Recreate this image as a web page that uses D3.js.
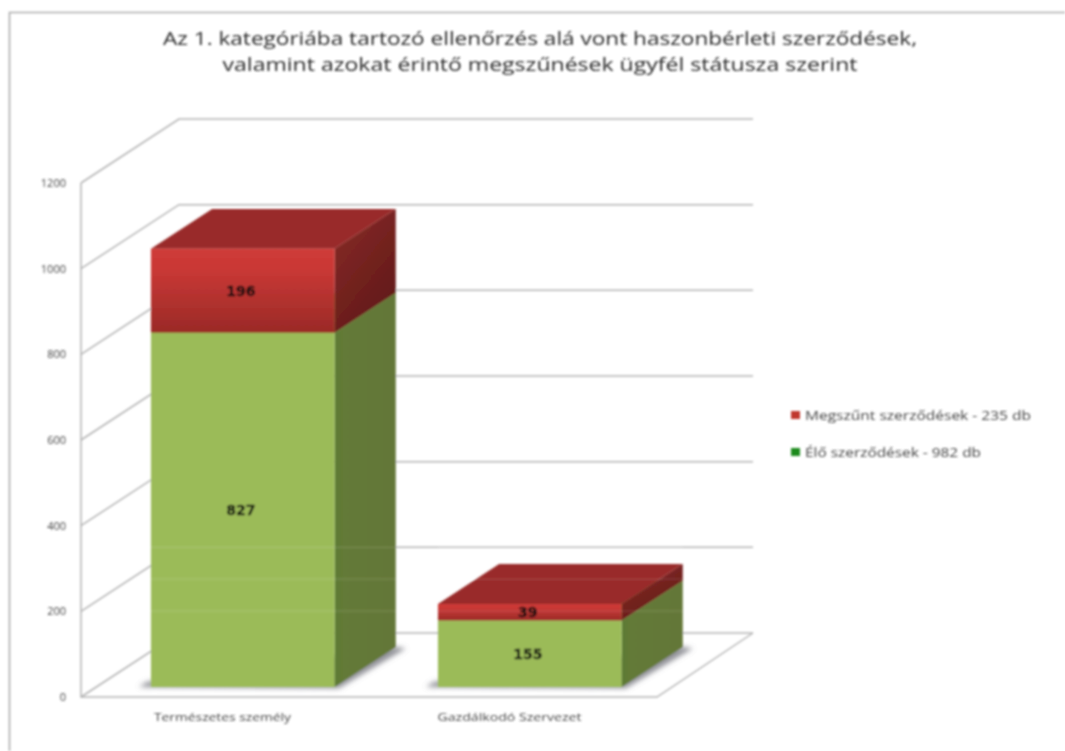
<!DOCTYPE html>
<html>
<head>
<meta charset="utf-8">
<script src="https://cdn.jsdelivr.net/npm/d3@7"></script>
<style>
  body { margin: 0; background: #fff; }
  text { font-family: "Open Sans", sans-serif; }
  .title { font-size: 19px; fill: #2c2c2c; text-anchor: middle; }
  .tick text { font-size: 11px; fill: #444; }
  .cat { font-size: 11.5px; fill: #444; text-anchor: middle; }
  .val { font-family: "DejaVu Sans", sans-serif; font-size: 14px; font-weight: bold; fill: #111; stroke: #111; stroke-width: 0.3; text-anchor: middle; }
  .leg { font-size: 12.5px; fill: #444; }
</style>
</head>
<body>
<div id="chart"></div>
<script>
var titleLines = ["Az 1. kategóriába tartozó ellenőrzés alá vont haszonbérleti szerződések,",
                  "valamint azokat érintő megszűnések ügyfél státusza szerint"];
var categories = ["Természetes személy", "Gazdálkodó Szervezet"];
var elo = [827, 155];
var megszunt = [196, 39];
var yTicks = [0, 200, 400, 600, 800, 1000, 1200];
var legendLabels = ["Megszűnt szerződések - 235 db", "Élő szerződések - 982 db"];
var legendColors = ["#c0392f", "#1f8a1f"];
// faint scan lines that run across the bars, read against the back wall
var faintLevels = [51, 126, 200];

var width = 1065, height = 751;

// the picture is stretched sideways, so text widths are set by hand
var titleWidths = [754, 635];
var catWidths = [137, 144];
var legendWidths = [226, 176];

var svg = d3.select("#chart").append("svg")
  .attr("width", width)
  .attr("height", height);

var defs = svg.append("defs");

// the reference is a blurry scan, so everything gets a little blur
defs.append("filter").attr("id", "soft")
  .attr("filterUnits", "userSpaceOnUse")
  .attr("x", 0).attr("y", 0).attr("width", width).attr("height", height)
  .append("feGaussianBlur").attr("stdDeviation", 0.8);
defs.append("filter").attr("id", "shadow")
  .append("feGaussianBlur").attr("stdDeviation", 2.5);

function grad(id, x2, y2, stops) {
  var g = defs.append("linearGradient").attr("id", id)
    .attr("x1", 0).attr("y1", 0).attr("x2", x2).attr("y2", y2);
  stops.forEach(function(s) {
    g.append("stop").attr("offset", s[0]).attr("stop-color", s[1]);
  });
}
grad("redFront", 0, 1, [[0, "#cf3b38"], [0.25, "#c93835"], [1, "#9a2a27"]]);
grad("redSide", 0.6, 1, [[0, "#8a2b28"], [1, "#611a18"]]);
grad("greenSide", 1, 0, [[0, "#5b7a33"], [0.15, "#647a37"], [1, "#647737"]]);

var chart = svg.append("g").attr("filter", "url(#soft)");

// page frame
chart.append("path")
  .attr("d", "M9.5,751V12.5H1065")
  .attr("fill", "none").attr("stroke", "#aaa").attr("stroke-width", 1.6);

chart.selectAll(".title").data(titleLines).enter().append("text")
  .attr("class", "title")
  .attr("x", 540)
  .attr("y", function(d, i) { return 45 + i * 25.5; })
  .attr("textLength", function(d, i) { return titleWidths[i]; })
  .attr("lengthAdjust", "spacingAndGlyphs")
  .text(function(d) { return d; });

var y = d3.scaleLinear().domain([0, 1200]).range([697, 183]);
var x = d3.scaleBand().domain(categories).range([84, 658]).paddingInner(0.36).paddingOuter(0.18);

// depth of the 3d box: 0 is the front of the floor, 1 the back wall
var depthX = d3.scaleLinear().domain([0, 1]).range([0, 98]);
var depthY = d3.scaleLinear().domain([0, 1]).range([0, -64]);
var barFront = 0.156, barBack = 0.78;
var wallLeft = 81, floorRight = 657;

function pt(px, py, z) {
  return [px + depthX(z), py + depthY(z)];
}
var line = d3.line();

var grid = chart.append("g")
  .attr("fill", "none").attr("stroke", "#b4b4b4").attr("stroke-width", 1.5);

grid.selectAll(".wall").data(yTicks).enter().append("path")
  .attr("d", function(d) {
    return line([[wallLeft, y(d)], pt(wallLeft, y(d), 1), pt(floorRight - 2, y(d), 1)]);
  });
grid.append("path")
  .attr("d", line([[wallLeft, y(1200)], [wallLeft, y(0)], [floorRight, y(0)], pt(floorRight - 2, y(0), 1)]));

var yAxis = d3.axisLeft(y).tickValues(yTicks).tickSize(0).tickPadding(15).tickFormat(d3.format("d"));
var axisG = chart.append("g").attr("transform", "translate(" + wallLeft + ",0)").call(yAxis);
axisG.select(".domain").remove();

chart.selectAll(".cat").data(categories).enter().append("text")
  .attr("class", "cat")
  .attr("x", function(d) { return x(d) + x.bandwidth() / 2 - 5; })
  .attr("y", 721)
  .attr("textLength", function(d, i) { return catWidths[i]; })
  .attr("lengthAdjust", "spacingAndGlyphs")
  .text(function(d) { return d; });

// stacked bars
var rows = categories.map(function(c, i) { return {cat: c, elo: elo[i], megszunt: megszunt[i]}; });
var stack = d3.stack().keys(["elo", "megszunt"])(rows);

var bars = chart.append("g");

// floor shadow
bars.selectAll(".shadow").data(rows).enter().append("path")
  .attr("fill", "#8f9096")
  .attr("filter", "url(#shadow)")
  .attr("d", function(d) {
    var x0 = x(d.cat) - 12, x1 = x(d.cat) + x.bandwidth();
    return line([pt(x0, y(0), barFront), pt(x1 + 6, y(0), barFront - 0.02),
                 pt(x1 + 12, y(0), barBack - 0.02), pt(x1, y(0), barBack), pt(x0, y(0), barFront + 0.08)]) + "Z";
  });

var faces = {
  elo: {front: "#9bbb59", side: "url(#greenSide)", top: "#8aa64e"},
  megszunt: {front: "url(#redFront)", side: "url(#redSide)", top: "#992b29"}
};

stack.forEach(function(s) {
  var f = faces[s.key];
  var g = bars.selectAll(".s-" + s.key).data(s).enter().append("g");

  g.append("path").attr("fill", f.side)
    .attr("d", function(d) {
      var xr = x(d.data.cat) + x.bandwidth();
      return line([pt(xr, y(d[1]), barFront), pt(xr, y(d[1]), barBack),
                   pt(xr, y(d[0]), barBack), pt(xr, y(d[0]), barFront)]) + "Z";
    });
  g.append("path").attr("fill", f.top)
    .attr("d", function(d) {
      var xl = x(d.data.cat), xr = xl + x.bandwidth();
      return line([pt(xl, y(d[1]), barFront), pt(xr, y(d[1]), barFront),
                   pt(xr, y(d[1]), barBack), pt(xl, y(d[1]), barBack)]) + "Z";
    });
  g.append("path").attr("fill", f.front)
    .attr("d", function(d) {
      var xl = x(d.data.cat), xr = xl + x.bandwidth();
      return line([pt(xl, y(d[1]), barFront), pt(xr, y(d[1]), barFront),
                   pt(xr, y(d[0]), barFront), pt(xl, y(d[0]), barFront)]) + "Z";
    });
});

// faint lines over the bars
rows.forEach(function(d) {
  var xl = x(d.cat), xr = pt(xl + x.bandwidth(), 0, barBack)[0];
  bars.selectAll(".faint-" + categories.indexOf(d.cat)).data(faintLevels).enter().append("line")
    .attr("x1", pt(xl, 0, barFront)[0])
    .attr("x2", xr)
    .attr("y1", function(v) { return pt(0, y(v), 1)[1]; })
    .attr("y2", function(v) { return pt(0, y(v), 1)[1]; })
    .attr("stroke", "#fff").attr("stroke-opacity", 0.13).attr("stroke-width", 1.2);
});

// value labels go on top of everything
stack.forEach(function(s) {
  bars.selectAll(".val-" + s.key).data(s).enter().append("text").attr("class", "val")
    .attr("x", function(d) { return pt(x(d.data.cat) + x.bandwidth() / 2, 0, barFront)[0] - 2; })
    .attr("y", function(d) { return pt(0, y((d[0] + d[1]) / 2), barFront)[1] + 5; })
    .text(function(d) { return d[1] - d[0]; });
});

// legend
var leg = chart.selectAll(".legitem").data(legendLabels).enter().append("g")
  .attr("transform", function(d, i) { return "translate(791," + (415 + i * 37) + ")"; });
leg.append("rect")
  .attr("x", 0).attr("y", -4).attr("width", 9).attr("height", 8)
  .attr("fill", function(d, i) { return legendColors[i]; });
leg.append("text").attr("class", "leg")
  .attr("x", 14).attr("y", 5)
  .attr("textLength", function(d, i) { return legendWidths[i]; })
  .attr("lengthAdjust", "spacingAndGlyphs")
  .text(function(d) { return d; });
</script>
</body>
</html>
